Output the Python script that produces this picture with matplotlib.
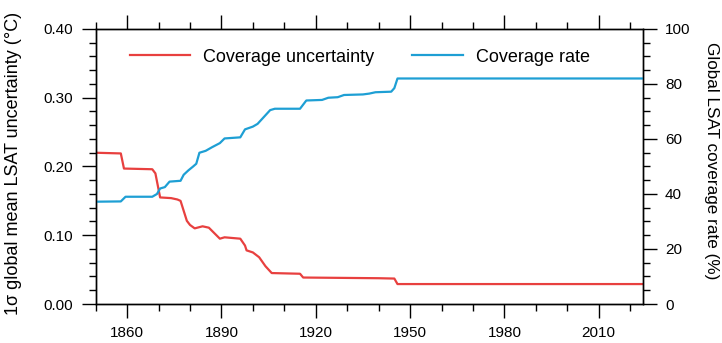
import matplotlib
matplotlib.use("Agg")
import matplotlib.pyplot as plt
from matplotlib.ticker import MultipleLocator, FormatStrFormatter

plt.rcParams['font.family'] = ['Liberation Sans', 'DejaVu Sans']

unc_years = [1850, 1858, 1859, 1868, 1869, 1870.5, 1874, 1876, 1877, 1879, 1880, 1881.5,
             1884, 1886, 1889.5, 1891, 1896, 1897.5, 1898, 1900, 1902, 1904, 1906,
             1915, 1916, 1940, 1945, 1946, 2024]
unc_vals = [0.220, 0.219, 0.197, 0.196, 0.190, 0.155, 0.154, 0.152, 0.150, 0.121, 0.115, 0.110,
            0.113, 0.111, 0.095, 0.097, 0.095, 0.085, 0.078, 0.075, 0.068, 0.055, 0.045,
            0.044, 0.0385, 0.0375, 0.037, 0.029, 0.029]

cov_years = [1850, 1858, 1859.5, 1868, 1869.5, 1870.5, 1872, 1873.5, 1877, 1878, 1879.5,
             1881, 1882, 1883, 1885, 1887, 1889.5, 1891, 1896, 1897.5, 1900, 1901.5,
             1903.5, 1905.5, 1907, 1915, 1917, 1922, 1924, 1927, 1929, 1935, 1937,
             1939, 1944, 1945, 1946, 2024]
cov_vals = [37.2, 37.3, 39.0, 39.0, 40.0, 42.0, 42.5, 44.5, 44.8, 47.0, 48.6,
            50.0, 51.0, 55.0, 55.7, 57.0, 58.5, 60.2, 60.6, 63.5, 64.5, 65.5,
            68.0, 70.5, 71.0, 71.0, 74.0, 74.2, 75.0, 75.2, 76.0, 76.2, 76.5,
            77.0, 77.2, 78.5, 82.0, 82.0]

x_ticks = [1860, 1890, 1920, 1950, 1980, 2010]

RED = '#e8403f'
BLUE = '#1e9fd4'

fig = plt.figure(figsize=(7.22, 3.43), dpi=100)
ax = fig.add_axes([0.1325, 0.1137, 0.7577, 0.8018])
ax2 = ax.twinx()

l1, = ax.plot(unc_years, unc_vals, color=RED, lw=1.6, label='Coverage uncertainty')
l2, = ax2.plot(cov_years, cov_vals, color=BLUE, lw=1.6, label='Coverage rate')

ax.set_xlim(1850, 2024)
ax.set_ylim(0, 0.40)
ax2.set_ylim(0, 100)

ax.set_xticks(x_ticks)
ax.xaxis.set_minor_locator(MultipleLocator(10))
ax.yaxis.set_major_locator(MultipleLocator(0.1))
ax.yaxis.set_minor_locator(MultipleLocator(0.02))
ax.yaxis.set_major_formatter(FormatStrFormatter('%.2f'))
ax2.yaxis.set_major_locator(MultipleLocator(20))
ax2.yaxis.set_minor_locator(MultipleLocator(5))

for a in (ax, ax2):
    for s in a.spines.values():
        s.set_linewidth(1.0)
ax.tick_params(which='major', direction='out', length=10, width=1.0, labelsize=11,
               top=True, pad=6)
ax.tick_params(which='minor', direction='out', length=5, width=1.0, top=True)
ax2.tick_params(which='major', direction='out', length=10, width=1.0, labelsize=11, pad=6)
ax2.tick_params(which='minor', direction='out', length=5, width=1.0)

ax.set_ylabel('1σ global mean LSAT uncertainty (°C)', fontsize=13, va='center')
ax2.set_ylabel('Global LSAT coverage rate (%)', fontsize=12.3, rotation=270, va='center')
ax.yaxis.set_label_coords((14 - 95.7) / 547, (304 - 163) / 275)
ax2.yaxis.set_label_coords((711 - 95.7) / 547, (304 - 161) / 275)

fig.legend(handles=[l1], loc='center left', bbox_to_anchor=(130 / 722, 1 - 57 / 343),
           frameon=False, fontsize=13, handlelength=3.3, handletextpad=0.72,
           borderpad=0, borderaxespad=0)
fig.legend(handles=[l2], loc='center left', bbox_to_anchor=(412 / 722, 1 - 57 / 343),
           frameon=False, fontsize=13, handlelength=2.85, handletextpad=0.72,
           borderpad=0, borderaxespad=0)

fig.savefig('out.png', dpi=100)
